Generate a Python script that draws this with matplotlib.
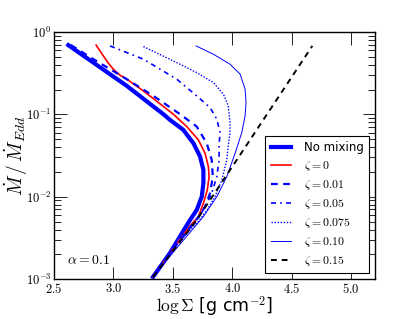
import numpy as np
import matplotlib
matplotlib.use("Agg")
import matplotlib.pyplot as plt

plt.rcParams['mathtext.fontset'] = 'cm'

# ---- data (log Sigma, log10 Mdot/Mdot_Edd) ----
nomix_x = [2.620, 2.831, 3.112, 3.420, 3.476, 3.588, 3.673, 3.729, 3.757, 3.757, 3.743, 3.701, 3.645, 3.603, 3.476, 3.333]
nomix_ly = [-0.161, -0.373, -0.655, -0.999, -1.068, -1.189, -1.351, -1.513, -1.675, -1.836, -1.999, -2.160, -2.282, -2.379, -2.682, -2.973]

z0_x = [2.854, 2.915, 2.957, 2.999, 3.056, 3.112, 3.252, 3.504, 3.617, 3.715, 3.771, 3.799, 3.805, 3.790, 3.757, 3.715, 3.645, 3.476, 3.333]
z0_ly = [-0.161, -0.291, -0.380, -0.453, -0.526, -0.574, -0.716, -0.999, -1.149, -1.311, -1.472, -1.635, -1.756, -1.917, -2.079, -2.241, -2.354, -2.682, -2.973]

z001_x = [2.640, 2.831, 3.112, 3.336, 3.561, 3.701, 3.785, 3.827, 3.836, 3.813, 3.771, 3.704, 3.628, 3.476, 3.333]
z001_ly = [-0.158, -0.331, -0.574, -0.777, -0.999, -1.149, -1.351, -1.553, -1.756, -1.958, -2.120, -2.269, -2.403, -2.682, -2.973]

z005_x = [2.971, 3.252, 3.533, 3.701, 3.813, 3.870, 3.897, 3.889, 3.889, 3.870, 3.827, 3.771, 3.704, 3.628, 3.476, 3.333]
z005_ly = [-0.170, -0.331, -0.574, -0.777, -0.919, -1.059, -1.222, -1.371, -1.553, -1.756, -1.958, -2.124, -2.282, -2.415, -2.682, -2.973]

z0075_x = [3.252, 3.533, 3.701, 3.841, 3.925, 3.967, 3.981, 3.981, 3.967, 3.954, 3.912, 3.855, 3.788, 3.712, 3.628, 3.476, 3.333]
z0075_ly = [-0.178, -0.373, -0.494, -0.615, -0.756, -0.898, -1.101, -1.222, -1.371, -1.553, -1.796, -1.999, -2.160, -2.306, -2.427, -2.682, -2.973]

z010_x = [3.695, 3.841, 3.981, 4.066, 4.108, 4.116, 4.108, 4.080, 4.024, 3.954, 3.870, 3.757, 3.662, 3.519, 3.333]
z010_ly = [-0.170, -0.271, -0.392, -0.513, -0.695, -0.858, -1.019, -1.222, -1.472, -1.756, -1.999, -2.241, -2.403, -2.646, -2.973]

z015_x = [3.333, 3.701, 4.038, 4.674]
z015_ly = [-2.973, -2.282, -1.553, -0.170]

fig = plt.figure(figsize=(4.16, 3.19), dpi=100)
ax = fig.add_axes([0.13, 0.125, 0.771, 0.775])

ax.plot(nomix_x, 10 ** np.array(nomix_ly), color='b', lw=3.0, label='No mixing')
ax.plot(z0_x, 10 ** np.array(z0_ly), color='r', lw=1.2, label=r'$\zeta = 0$')
ax.plot(z001_x, 10 ** np.array(z001_ly), color='b', lw=1.6, ls=(0, (3, 2.5)), label=r'$\zeta = 0.01$')
ax.plot(z005_x, 10 ** np.array(z005_ly), color='b', lw=1.2, ls=(0, (3, 2.5, 1, 2.5)), label=r'$\zeta = 0.05$')
ax.plot(z0075_x, 10 ** np.array(z0075_ly), color='b', lw=1.0, ls=(0, (1, 1.2)), label=r'$\zeta = 0.075$')
ax.plot(z010_x, 10 ** np.array(z010_ly), color='b', lw=0.7, label=r'$\zeta = 0.10$')
ax.plot(z015_x, 10 ** np.array(z015_ly), color='k', lw=1.4, ls=(0, (3, 2.5)), label=r'$\zeta = 0.15$')

ax.set_yscale('log')
ax.set_xlim(2.5, 5.2)
ax.set_ylim(1e-3, 1e0)

xt = [2.5, 3.0, 3.5, 4.0, 4.5, 5.0]
ax.set_xticks(xt)
ax.set_xticklabels([r'$%.1f$' % v for v in xt], fontsize=9)
yt = [1e-3, 1e-2, 1e-1, 1e0]
ax.set_yticks(yt)
ax.set_yticklabels([r'$10^{-3}$', r'$10^{-2}$', r'$10^{-1}$', r'$10^{0}$'], fontsize=9)
ax.tick_params(which='both', direction='in', top=True, right=True)
ax.tick_params(which='major', length=9, width=0.6, pad=2)
ax.tick_params(which='minor', length=5, width=0.6)
for s in ax.spines.values():
    s.set_linewidth(1.0)

ax.set_xlabel(r'$\log\Sigma$ [g cm$^{-2}$]', fontsize=12.5, labelpad=-1)
ax.set_ylabel(r'$\dot{M}\,/\,\dot{M}_{Edd}$', fontsize=14, labelpad=-3)

ax.text(0.04, 0.06, r'$\alpha = 0.1$', transform=ax.transAxes, fontsize=10)

leg = ax.legend(loc='lower right', fontsize=8.5, frameon=True, fancybox=False,
                edgecolor='k', framealpha=1, handlelength=1.7, labelspacing=0.42,
                borderaxespad=0.5, handletextpad=1.1, borderpad=0.45)
leg.get_frame().set_linewidth(0.8)

fig.savefig('out.png', dpi=100)
